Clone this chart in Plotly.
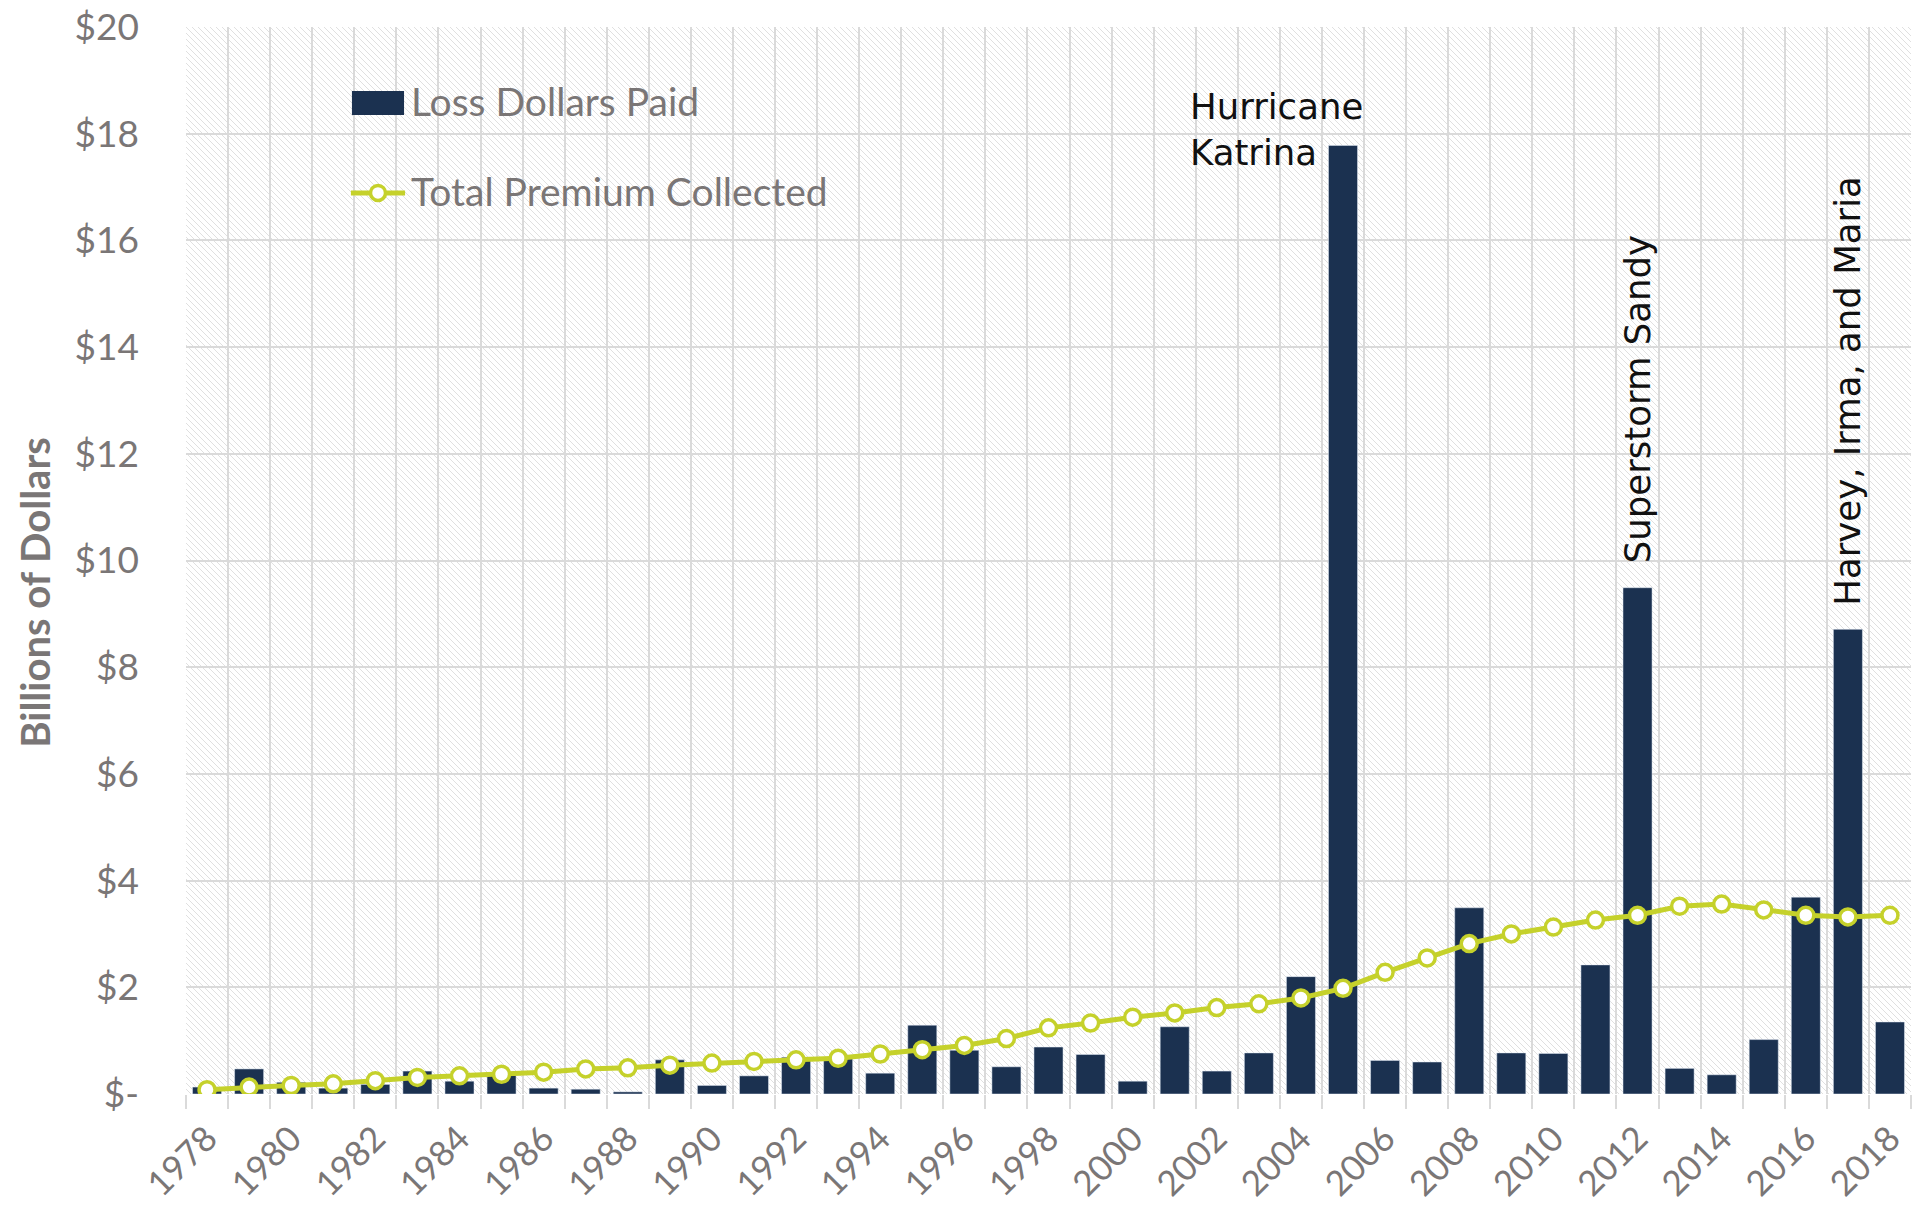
import base64
import plotly.graph_objects as go

years = list(range(1978, 2019))
loss_paid = [0.13, 0.47, 0.22, 0.11, 0.18, 0.43, 0.24, 0.35, 0.11, 0.09, 0.04, 0.64, 0.16, 0.34,
             0.69, 0.66, 0.39, 1.29, 0.82, 0.51, 0.88, 0.74, 0.24, 1.26, 0.43, 0.77, 2.20, 17.78,
             0.63, 0.60, 3.49, 0.77, 0.76, 2.42, 9.49, 0.48, 0.36, 1.02, 3.69, 8.71, 1.35]
premium = [0.08, 0.13, 0.16, 0.19, 0.25, 0.31, 0.34, 0.37, 0.41, 0.47, 0.49, 0.54, 0.58, 0.61,
           0.64, 0.67, 0.75, 0.83, 0.91, 1.04, 1.24, 1.33, 1.44, 1.52, 1.62, 1.69, 1.80, 1.98,
           2.28, 2.55, 2.82, 3.00, 3.13, 3.26, 3.35, 3.52, 3.56, 3.45, 3.35, 3.32, 3.35]
ytick_vals = [0, 2, 4, 6, 8, 10, 12, 14, 16, 18, 20]
ytick_text = ["$-", "$2", "$4", "$6", "$8", "$10", "$12", "$14", "$16", "$18", "$20"]
xtick_vals = list(range(1978, 2019, 2))
series_names = ["Loss Dollars Paid", "Total Premium Collected"]
events = [("Hurricane<br>Katrina", 2005), ("Superstorm Sandy", 2012), ("Harvey, Irma, and Maria", 2017)]
y_title = "Billions of Dollars"

NAVY = "#1b3150"
GREEN = "#c5d12b"
GRAY = "#7a7676"
GRID = "#dadada"

W, H = 1921, 1211
ML, MR, MT, MB = 186, 10, 27, 117
PW, PH = W - ML - MR, H - MT - MB

svg = (f"<svg xmlns='http://www.w3.org/2000/svg' width='{PW}' height='{PH}'>"
       "<defs><pattern id='p' width='6' height='6' patternUnits='userSpaceOnUse'>"
       "<path d='M0,0 L6,6 M-1,5 L1,7 M5,-1 L7,1' stroke='#e0e0e0' stroke-width='1'/>"
       "</pattern></defs><rect width='100%' height='100%' fill='url(#p)'/></svg>")
src = "data:image/svg+xml;base64," + base64.b64encode(svg.encode()).decode()

fig = go.Figure()
fig.add_trace(go.Bar(x=years, y=loss_paid, name=series_names[0], marker_color=NAVY,
                     width=0.69, showlegend=False))
fig.add_trace(go.Scatter(x=years, y=premium, name=series_names[1], mode="lines+markers",
                         line=dict(color=GREEN, width=5),
                         marker=dict(size=16, color="white", line=dict(color=GREEN, width=3.5)),
                         showlegend=False))

d = dict(zip(years, loss_paid))
ann_font = dict(family="DejaVu Sans", size=35.5, color="#111111")
fig.add_annotation(x=events[0][1], y=d[events[0][1]], text=events[0][0], showarrow=False,
                   xanchor="right", xshift=22, yanchor="middle", yshift=16, align="left",
                   font=ann_font)
for txt, yr in events[1:]:
    fig.add_annotation(x=yr, y=d[yr], text=txt, showarrow=False, textangle=-90,
                       xanchor="center", yanchor="bottom", yshift=22, font=ann_font)

# y-axis title
fig.add_annotation(xref="paper", yref="paper", x=-0.088, y=0.47, text=f"<b>{y_title}</b>",
                   textangle=-90, showarrow=False, xanchor="center", yanchor="middle",
                   font=dict(family="Lato", size=40, color=GRAY))

# custom legend
leg_font = dict(family="Lato", size=39, color=GRAY)
fig.add_shape(type="rect", xref="paper", yref="paper", x0=0.0962, x1=0.1264, y0=0.9175, y1=0.940,
              fillcolor=NAVY, line_width=0)
fig.add_annotation(xref="paper", yref="paper", x=0.1290, y=0.931, text=series_names[0],
                   showarrow=False, xanchor="left", yanchor="middle", font=leg_font)
fig.add_shape(type="line", xref="paper", yref="paper", x0=0.0956, x1=0.1270, y0=0.8445, y1=0.8445,
              line=dict(color=GREEN, width=5))
fig.add_shape(type="circle", xref="paper", yref="paper", xsizemode="pixel", ysizemode="pixel",
              xanchor=0.1113, yanchor=0.8445, x0=-7.5, x1=7.5, y0=-7.5, y1=7.5,
              fillcolor="white", line=dict(color=GREEN, width=3.5))
fig.add_annotation(xref="paper", yref="paper", x=0.1290, y=0.846, text=series_names[1],
                   showarrow=False, xanchor="left", yanchor="middle", font=leg_font)

fig.update_layout(
    width=W, height=H, margin=dict(l=ML, r=MR, t=MT, b=MB, autoexpand=False),
    paper_bgcolor="white", plot_bgcolor="white",
    font=dict(family="Lato", color=GRAY),
    images=[dict(source=src, xref="paper", yref="paper", x=0, y=1, sizex=1, sizey=1,
                 xanchor="left", yanchor="top", sizing="stretch", layer="below")],
    showlegend=False,
)
fig.update_xaxes(range=[1977.5, 2018.5], tickvals=xtick_vals, tickangle=-45, showgrid=False,
                 ticks="", tickfont=dict(size=35, color=GRAY), ticklabelstandoff=16,
                 showline=False, zeroline=False, automargin=False,
                 minor=dict(tick0=1977.5, dtick=1, showgrid=True, gridcolor=GRID, gridwidth=2,
                            ticks="outside", ticklen=14, tickcolor=GRID, tickwidth=2))
fig.update_yaxes(range=[0, 20], tickvals=ytick_vals, ticktext=ytick_text, showgrid=True,
                 gridcolor=GRID, gridwidth=2, zeroline=False, showline=False, automargin=False,
                 tickfont=dict(size=37, color=GRAY), ticklabelstandoff=46)
fig.write_html("out.html")
